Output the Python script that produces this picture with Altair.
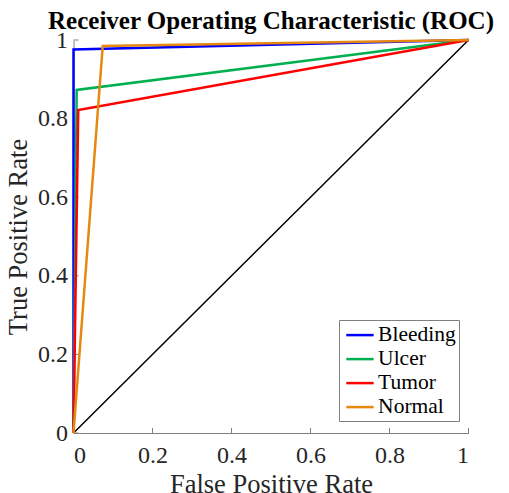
import altair as alt
import pandas as pd

classes = ["Bleeding", "Ulcer", "Tumor", "Normal"]
colors = ["#0000ff", "#00b050", "#ff0000", "#e6880f"]
fpr_bleeding = [0.0, 0.0, 1.0]
tpr_bleeding = [0.0, 0.976, 1.0]
fpr_ulcer = [0.0, 0.008, 1.0]
tpr_ulcer = [0.0, 0.873, 1.0]
fpr_tumor = [0.0, 0.012, 1.0]
tpr_tumor = [0.0, 0.822, 1.0]
fpr_normal = [0.0, 0.074, 1.0]
tpr_normal = [0.0, 0.985, 1.0]
diag_x = [0.0, 1.0]
diag_y = [0.0, 1.0]
tick_values = [0, 0.2, 0.4, 0.6, 0.8, 1]

series = {
    "Bleeding": (fpr_bleeding, tpr_bleeding),
    "Ulcer": (fpr_ulcer, tpr_ulcer),
    "Tumor": (fpr_tumor, tpr_tumor),
    "Normal": (fpr_normal, tpr_normal),
}
rows = []
for c in classes:
    xs_, ys_ = series[c]
    for i, (a, b) in enumerate(zip(xs_, ys_)):
        rows.append({"cls": c, "fpr": a, "tpr": b, "i": i})
df = pd.DataFrame(rows)
diag = pd.DataFrame({"fpr": diag_x, "tpr": diag_y, "i": [0, 1]})
ticks = pd.DataFrame({"v": tick_values})

W, H = 395, 393
FONT = "Times New Roman"
xs = alt.Scale(domain=[0, 1], nice=False)
ys = alt.Scale(domain=[0, 1], nice=False)

xaxis = alt.Axis(values=tick_values, format="~g", ticks=False, grid=False,
                 title="False Positive Rate", labelPadding=10, titlePadding=4)
yaxis = alt.Axis(values=tick_values, format="~g", ticks=False, grid=False,
                 title="True Positive Rate", labelPadding=6, titlePadding=5)

diag_line = alt.Chart(diag).mark_line(color="black", strokeWidth=1.5).encode(
    x=alt.X("fpr:Q", scale=xs, axis=xaxis),
    y=alt.Y("tpr:Q", scale=ys, axis=yaxis),
    order="i:O",
)

roc = alt.Chart(df).mark_line(strokeWidth=2.5).encode(
    x=alt.X("fpr:Q", scale=xs),
    y=alt.Y("tpr:Q", scale=ys),
    color=alt.Color("cls:N", scale=alt.Scale(domain=classes, range=colors),
                    legend=alt.Legend(title=None, orient="none", legendX=265.5, legendY=280,
                                      symbolType="M-0.7,0H1.75", symbolStrokeWidth=2.5,
                                      symbolSize=500, labelFont=FONT, labelFontSize=21.5,
                                      labelColor="black", strokeColor="#808080",
                                      fillColor="white", padding=2.6, rowPadding=1,
                                      labelOffset=11.5)),
    order="i:O",
)

xticks = alt.Chart(ticks).mark_rule(color="#808080").encode(
    x=alt.X("v:Q", scale=xs), y=alt.value(H), y2=alt.value(H - 5)
)
yticks = alt.Chart(ticks).mark_rule(color="#808080").encode(
    y=alt.Y("v:Q", scale=ys), x=alt.value(0), x2=alt.value(5)
)

chart = alt.layer(diag_line, xticks, yticks, roc).properties(
    width=W, height=H,
    title=alt.TitleParams("Receiver Operating Characteristic (ROC)", font=FONT,
                          fontSize=25, fontWeight="bold", color="black", offset=-6,
                          anchor="middle", frame="group"),
    autosize=alt.AutoSizeParams(type="none"),
    padding={"left": 65.5, "top": 32, "right": 32.5, "bottom": 60},
).configure_view(stroke=None).configure_axis(
    labelFont=FONT, labelFontSize=24, labelColor="#262626",
    titleFont=FONT, titleFontSize=26.5, titleFontWeight="normal", titleColor="#262626",
    domainColor="#808080", domainWidth=1,
)

chart.save("out.html", embed_options={"renderer": "svg", "actions": False})
